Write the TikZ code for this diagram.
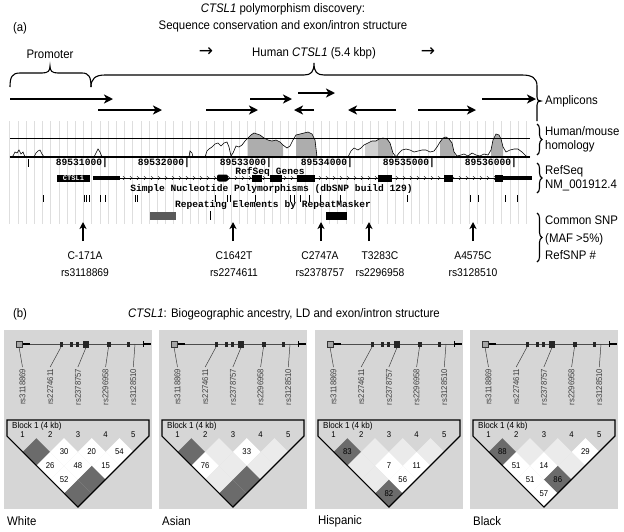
\documentclass[tikz,border=0pt]{standalone}
\usepackage{fontspec}
\setmainfont{Liberation Sans}[FakeStretch=0.92]
\setmonofont{Liberation Mono}
\newfontfamily\arrowfont{DejaVu Sans}
\usetikzlibrary{arrows.meta,decorations.pathreplacing}

% one LD diamond: panel offset, marker i, marker j, fill style, value
\newcommand{\ldcell}[5]{%
  \pgfmathsetmacro{\ldx}{#1+22.5+13.85*(#2+#3-2)}%
  \pgfmathsetmacro{\ldy}{452+13.85*(#3-#2-1)}%
  \fill[#4] (\ldx-13.85,\ldy) -- (\ldx,\ldy-13.85) -- (\ldx+13.85,\ldy) -- (\ldx,\ldy+13.85) -- cycle;
  \node[ldnum] (ld#1-#2#3) at (\ldx,\ldy) {#5};
}

\begin{document}
\begin{tikzpicture}[
    x=1pt, y=-1pt,
    lbl/.style={font=\fontsize{12.4}{14}\selectfont, inner sep=0pt},
    titlelbl/.style={font=\fontsize{12.4}{17}\selectfont, inner sep=0pt, align=center},
    sidelbl/.style={lbl, anchor=west, align=left},
    snplbl/.style={font=\fontsize{11.2}{17}\selectfont, inner sep=0pt, align=center},
    track/.style={font=\ttfamily\bfseries\fontsize{9.6}{9.6}\selectfont, inner sep=0pt},
    amplicon/.style={line width=2.8pt, -{Stealth[length=9pt, width=9pt, inset=2.5pt]}},
    snparrow/.style={line width=2pt, -{Stealth[length=7pt, width=7pt, inset=2pt]}},
    bracepath/.style={line width=1.1pt},
    sidebrace/.style={decorate, decoration={brace, amplitude=5pt}, line width=1.1pt},
    gridline/.style={black!13, line width=0.5pt},
    peak/.style={fill=black!32},
    panelbg/.style={fill=black!16},
    ldlight/.style={fill=black!8},
    lddark/.style={fill=black!58},
    ldwhite/.style={fill=white},
    ldnum/.style={font=\fontsize{8.4}{8.4}\selectfont, inner sep=0pt},
    rslbl/.style={font=\fontsize{8.4}{8.4}\selectfont, rotate=90, anchor=east, inner sep=1.5pt, text=black!75},
    conn/.style={black!75, line width=0.5pt},
  ]
  \useasboundingbox (0,0) rectangle (624,531);

  % ---- (a) ----
  \node[lbl] (tagA) at (20,28) {(a)};
  \node[titlelbl] (titleA) at (283,18) {\textit{CTSL1} polymorphism discovery:\\Sequence conservation and exon/intron structure};
  \node[lbl] (prom) at (50,54) {Promoter};
  \node[lbl] (humangene) at (314,53) {Human \textit{CTSL1} (5.4 kbp)};
  \node[lbl, font=\arrowfont\fontsize{17}{17}\selectfont] (arrL) at (206,52) {→};
  \node[lbl, font=\arrowfont\fontsize{17}{17}\selectfont] (arrR) at (428,52) {→};

  \draw[bracepath] (10,87) .. controls (10,77) and (12,73) .. (20,73) -- (42,73)
    .. controls (48,73) and (50,71) .. (50,66) .. controls (50,71) and (52,73) .. (58,73)
    -- (82,73) .. controls (89,73) and (91,77) .. (91,87);
  \draw[bracepath] (91,87) .. controls (91,79) and (95,75) .. (105,75) -- (304,75)
    .. controls (311,75) and (314,72) .. (314,63) .. controls (314,72) and (317,75) .. (324,75)
    -- (522,75) .. controls (532,75) and (537,78) .. (537,86) -- (537,97)
    .. controls (537,100) and (538,101) .. (541,101) .. controls (538,101) and (537,102) .. (537,105) -- (537,121);

  \foreach \xa/\xb/\yy in {10/113/99, 250/292/99, 298/335/93, 482/536/99,
                          98/162/110, 206/258/110, 314/294/110, 396/348/110, 418/476/110}
    \draw[amplicon] (\xa,\yy) -- (\xb,\yy);

  \node[sidelbl] (ampl) at (545,101) {Amplicons};
  \node[sidelbl] (homol) at (545,139.5) {Human/mouse\\homology};
  \node[sidelbl] (refseq) at (545,178.5) {RefSeq\\NM\_001912.4};
  \node[sidelbl, font=\fontsize{12.4}{17.5}\selectfont] (csnp) at (545,238) {Common SNP\\(MAF >5\%)\\RefSNP \#};
  \draw[sidebrace] (537,124) -- (537,155);
  \draw[sidebrace] (537,163) -- (537,193);
  \draw[sidebrace] (537,213) -- (537,262);

  % browser window
  \foreach \i in {0,...,63}
    \draw[gridline] (9.6+8.2*\i,121) -- (9.6+8.2*\i,224);

  \fill[peak] (248,157) -- (248,138) -- (251,135) -- (254,133) -- (257,134) -- (260,135) -- (264,138) -- (268,140) -- (272,141) -- (276,140) -- (280,142) -- (283,145) -- (283,157) -- cycle;
  \fill[peak] (296,157) -- (296,135) -- (300,134) -- (304,133) -- (308,132) -- (312,134) -- (315,140) -- (317,157) -- cycle;
  \fill[black!18] (365,157) -- (365,144) -- (368,143) -- (372,141) -- (376,141) -- (378,140) -- (378,157) -- cycle;
  \fill[peak] (378,157) -- (378,140) -- (379,139) -- (383,138) -- (387,139) -- (390,143) -- (393,153) -- (393,157) -- cycle;
  \fill[peak] (440,157) -- (440,142) -- (443,138) -- (446,137) -- (449,139) -- (452,143) -- (454,152) -- (456,157) -- cycle;
  \fill[peak] (491,157) -- (491,150) -- (493,140) -- (496,134) -- (499,135) -- (501,139) -- (503,147) -- (503,157) -- cycle;

  \draw[line width=0.6pt] plot coordinates {
    (10,157) (13,156) (15,152) (17,153) (19,150) (21,154) (23,152) (25,157)
    (34,157) (36,153) (38,151) (40,150) (42,154) (44,157)
    (94,157) (96,153) (98,149) (100,152) (102,157)
    (189,157) (190,151) (192,153) (193,157)
    (205,157) (207,151) (209,149) (212,147) (215,144) (218,143) (221,146) (224,143) (227,142) (229,147) (231,156)
    (233,153) (236,146) (239,147) (242,145) (245,141) (248,138) (251,135) (254,133) (257,134) (260,135) (264,138)
    (268,140) (272,141) (276,140) (280,142) (283,145) (287,148) (290,146) (293,140) (296,135) (300,134) (304,133)
    (308,132) (312,134) (315,140) (317,157)
    (348,157) (351,151) (354,148) (358,150) (361,148) (364,145) (368,143) (372,141) (376,141) (379,139) (383,138)
    (387,139) (390,143) (393,153) (396,157) (399,153) (402,150) (406,149) (410,150) (414,152) (418,151) (422,150)
    (426,150) (430,152) (434,151) (437,147) (440,142) (443,138) (446,137) (449,139) (452,143) (454,152) (457,156)
    (461,155) (464,154) (468,156) (472,153) (476,155) (480,156) (484,154) (488,155) (491,150) (493,140) (496,134)
    (499,135) (501,139) (503,147) (506,152) (510,150) (514,149) (518,149) (522,152) (526,156) (530,157)};
  \draw[line width=0.7pt] (10,138) -- (530,138);
  \draw[line width=1.8pt] (10,157) -- (530,157);

  \draw[line width=0.8pt] (28,159) -- (28,167);
  \foreach \x/\pos in {108/89531000, 190/89532000, 272/89533000, 353/89534000, 435/89535000, 517/89536000}
    \node[track, anchor=east] (pos\pos) at (\x,163) {\pos|};

  \node[track] (rsgenes) at (270,171.5) {RefSeq Genes};
  \node[fill=black, text=white, inner sep=0pt, minimum width=33pt, minimum height=7pt,
        font=\ttfamily\bfseries\fontsize{7}{7}\selectfont] (ctsl) at (73.5,178) {CTSL1};
  \draw[line width=0.5pt] (120,178) -- (503,178);
  \foreach \x in {124,131,...,500}
    \draw[line width=0.4pt] (\x-1,176.3) -- (\x+1,178) -- (\x-1,179.7);
  \draw[line width=3.5pt] (93,178) -- (120,178);
  \draw[line width=3.5pt] (503,178) -- (532,178);
  \fill[rounded corners=2pt] (217,174.5) rectangle (228,181.5);
  \foreach \xa/\xb in {252/262, 270/282, 297/315, 378/392, 444/453, 495/503}
    \fill (\xa,174.5) rectangle (\xb,181.5);

  \node[track] (dbsnp) at (271.5,189) {Simple Nucleotide Polymorphisms (dbSNP build 129)};
  \foreach \x in {43, 84, 86.5, 89, 100, 105, 135, 137.5, 215, 227, 230, 255, 290, 294, 300,
                  309, 320, 340, 407, 470, 478, 505, 517}
    \draw[line width=0.7pt] (\x,195) -- (\x,202);

  \node[track] (rmask) at (273,205.5) {Repeating Elements by RepeatMasker};
  \fill[black!65] (150,212) rectangle (176,220);
  \draw[line width=0.7pt] (210,211) -- (210,220);
  \fill (326,212) rectangle (347,220);

  % common SNPs
  \foreach \x/\lx/\n/\var/\rs in {83/85/1/C-171A/rs3118869, 233/234/2/C1642T/rs2274611, 321/320/3/C2747A/rs2378757,
                                  369/380/4/T3283C/rs2296958, 473/473/5/A4575C/rs3128510} {
    \node[snplbl] (snp\n) at (\lx,264.5) {\var\\\rs};
    \draw[snparrow] (\x,241) -- (\x,222);
  }

  % ---- (b) ----
  \node[lbl] (tagB) at (20,314) {(b)};
  \node[lbl] (titleB) at (284,314) {\textit{CTSL1}: Biogeographic ancestry, LD and exon/intron structure};

  \foreach \ox/\pop in {0/White, 155/Asian, 311/Hispanic, 466/Black} {
    \fill[panelbg] (\ox+4,330) rectangle (\ox+152,509);
    \draw[line width=0.6pt, black!70] (\ox+30,344) -- (\ox+143,344);
    \draw[line width=2pt] (\ox+22,344) -- (\ox+30,344);
    \draw[line width=2.2pt] (\ox+143,344) -- (\ox+151,344);
    \draw[line width=0.8pt] (\ox+143,341) -- (\ox+143,347);
    \filldraw[fill=black!35, draw=black!80, line width=0.4pt] (\ox+16,341) rectangle (\ox+22,347);
    \foreach \xa/\xb in {59.5/62.5, 69.5/72.5, 75.5/78.5, 107/110.5, 127/129.5}
      \fill[black!85] (\ox+\xa,341.5) rectangle (\ox+\xb,347);
    \fill[black!85] (\ox+83,340.5) rectangle (\ox+89,347.5);
    \foreach \k/\rs in {1/rs3118869, 2/rs2274611, 3/rs2378757, 4/rs2296958, 5/rs3128510}
      \node[rslbl] (rs\k-\ox) at (\ox+22.5+27.7*\k-27.7,367) {\rs};
    \draw[conn] (\ox+19,347) -- (rs1-\ox.east);
    \draw[conn] (\ox+61,347) -- (rs2-\ox.east);
    \draw[conn] (\ox+86,347.5) -- (rs3-\ox.east);
    \draw[conn] (\ox+108.5,347) -- (rs4-\ox.east);
    \draw[conn] (\ox+135,344) -- (rs5-\ox.east);
    \node[ldnum, anchor=west, font=\fontsize{8.8}{8.8}\selectfont] (block\ox) at (\ox+12,426.5) {Block 1 (4 kb)};
    \foreach \k in {1,...,5}
      \node[ldnum] (m\k-\ox) at (\ox+22.5+27.7*\k-27.7,435) {\k};
    \node[lbl, anchor=west] (pop\ox) at (\ox+7,521) {\pop};
  }

  % White
  \ldcell{0}{1}{2}{lddark}{}  \ldcell{0}{2}{3}{ldwhite}{30} \ldcell{0}{3}{4}{ldwhite}{20}
  \ldcell{0}{4}{5}{ldwhite}{54} \ldcell{0}{1}{3}{ldwhite}{26} \ldcell{0}{2}{4}{ldwhite}{48}
  \ldcell{0}{3}{5}{ldwhite}{15} \ldcell{0}{1}{4}{ldwhite}{52} \ldcell{0}{2}{5}{lddark}{}
  \ldcell{0}{1}{5}{lddark}{}
  % Asian
  \ldcell{155}{1}{2}{lddark}{}  \ldcell{155}{2}{3}{ldlight}{} \ldcell{155}{3}{4}{ldwhite}{33}
  \ldcell{155}{4}{5}{ldlight}{} \ldcell{155}{1}{3}{ldwhite}{76} \ldcell{155}{2}{4}{ldlight}{}
  \ldcell{155}{3}{5}{ldlight}{} \ldcell{155}{1}{4}{ldlight}{} \ldcell{155}{2}{5}{lddark}{}
  \ldcell{155}{1}{5}{lddark}{}
  % Hispanic
  \ldcell{311}{1}{2}{lddark}{83} \ldcell{311}{2}{3}{ldlight}{} \ldcell{311}{3}{4}{ldlight}{}
  \ldcell{311}{4}{5}{ldlight}{} \ldcell{311}{1}{3}{ldlight}{} \ldcell{311}{2}{4}{ldwhite}{7}
  \ldcell{311}{3}{5}{ldwhite}{11} \ldcell{311}{1}{4}{ldlight}{} \ldcell{311}{2}{5}{ldwhite}{56}
  \ldcell{311}{1}{5}{lddark}{82}
  % Black
  \ldcell{466}{1}{2}{lddark}{88} \ldcell{466}{2}{3}{ldlight}{} \ldcell{466}{3}{4}{ldlight}{}
  \ldcell{466}{4}{5}{ldwhite}{29} \ldcell{466}{1}{3}{ldwhite}{51} \ldcell{466}{2}{4}{ldwhite}{14}
  \ldcell{466}{3}{5}{ldlight}{} \ldcell{466}{1}{4}{ldwhite}{51} \ldcell{466}{2}{5}{lddark}{86}
  \ldcell{466}{1}{5}{ldwhite}{57}

  \foreach \ox in {0,155,311,466}
    \draw[line width=1.2pt, line join=miter]
      (\ox+6.9,420) -- (\ox+148.9,420) -- (\ox+148.9,436) -- (\ox+77.9,507) -- (\ox+6.9,436) -- cycle;
\end{tikzpicture}
\end{document}
